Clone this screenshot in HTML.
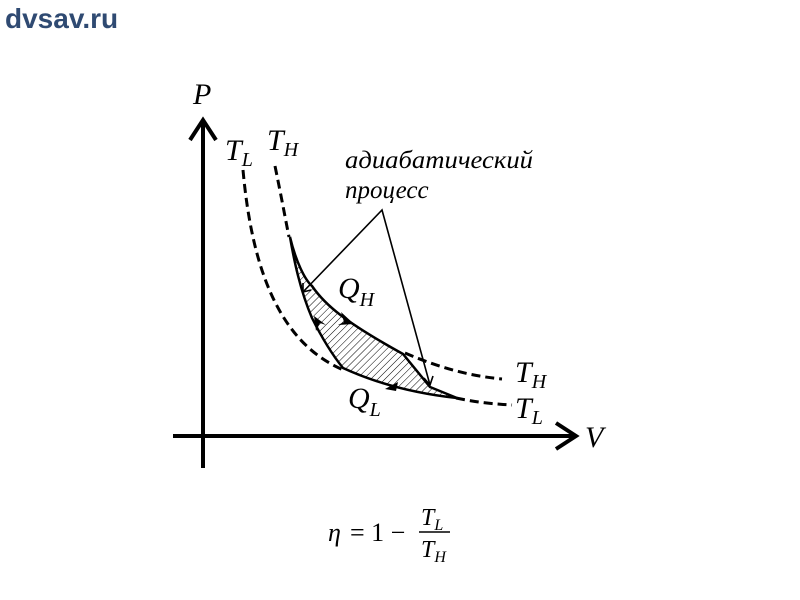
<!DOCTYPE html>
<html><head><meta charset="utf-8"><style>
body{margin:0;background:#fff;width:800px;height:600px;overflow:hidden}
</style></head><body>
<svg width="800" height="600" xmlns="http://www.w3.org/2000/svg" style="position:absolute;left:0;top:0">
<defs>
<pattern id="h" width="5" height="5" patternUnits="userSpaceOnUse" patternTransform="rotate(45)">
<line x1="0" y1="0" x2="0" y2="5" stroke="#000" stroke-width="1"/>
</pattern>
</defs>
<text x="5" y="28" font-family="Liberation Sans, sans-serif" font-weight="bold" font-size="28" fill="#2f4a72">dvsav.ru</text>
<g stroke="#000" stroke-width="4" fill="none">
<line x1="203" y1="120" x2="203" y2="468"/>
<polyline points="190,140 203,120 216,140"/>
<line x1="173" y1="436" x2="576" y2="436"/>
<polyline points="556,423 576,436 556,449"/>
</g>
<g font-family="Liberation Serif, serif" font-style="italic" fill="#000">
<text x="193" y="104" font-size="30">P</text>
<text x="585" y="447" font-size="30">V</text>
<text x="225" y="160" font-size="30">T<tspan font-size="20" dy="6">L</tspan></text>
<text x="267" y="150" font-size="30">T<tspan font-size="20" dy="6">H</tspan></text>
<text x="515" y="382" font-size="30">T<tspan font-size="20" dy="6">H</tspan></text>
<text x="515" y="418" font-size="30">T<tspan font-size="20" dy="6">L</tspan></text>
<text x="338" y="298" font-size="30">Q<tspan font-size="20" dy="8">H</tspan></text>
<text x="348" y="408" font-size="30">Q<tspan font-size="20" dy="8">L</tspan></text>
<text x="345" y="168" font-size="25" textLength="188" lengthAdjust="spacingAndGlyphs">адиабатический</text>
<text x="345" y="198" font-size="25">процесс</text>
</g>
<g stroke="#000" stroke-width="3" fill="none" stroke-dasharray="9,5">
<path d="M275,166 C282,200 286,222 289,237"/>
<path d="M405,353 C440,368 470,376 502,379"/>
<path d="M243,170 C252,270 280,345 346,371"/>
<path d="M456,398 C480,403 495,404 512,405"/>
</g>
<path d="M290,237 C296,262 305,280 312,286 C325,305 345,322 403,354 L430,387 L457,398 C420,394 380,385 343,368 C330,352 318,330 312,318 C300,290 294,260 290,237 Z" fill="url(#h)" stroke="#000" stroke-width="2.5"/>
<g fill="#000">
<polygon points="354,324 341,312 344,322 338,325"/>
<polygon points="314,316 316,331 320,323 326,325"/>
<polygon points="385,389 398,382 396,391"/>
</g>
<g stroke="#000" stroke-width="1.6" fill="none">
<polyline points="303,292 382,210 430,385"/>
<polyline points="303,283 303,292 311,290"/>
<polyline points="424,378 430,385 433,376"/>
</g>
<g font-family="Liberation Serif, serif" fill="#000">
<text x="328" y="541" font-size="26" font-style="italic">η</text>
<text x="350" y="541" font-size="26">= 1 −</text>
<text x="421" y="525" font-size="24" font-style="italic">T<tspan font-size="16" dy="5">L</tspan></text>
<line x1="419" y1="532" x2="450" y2="532" stroke="#000" stroke-width="1.5"/>
<text x="421" y="557" font-size="24" font-style="italic">T<tspan font-size="16" dy="5">H</tspan></text>
</g>
</svg>
</body></html>
